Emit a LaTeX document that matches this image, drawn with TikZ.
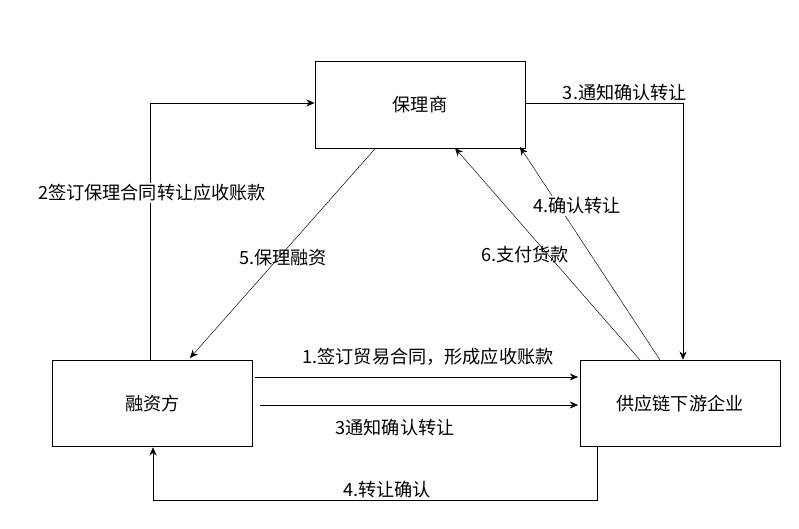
\documentclass[tikz,border=0pt]{standalone}
\usepackage{fontspec}
\setmainfont{Noto Sans CJK SC}
\usetikzlibrary{arrows.meta, positioning}

\begin{document}
\begin{tikzpicture}[x=0.03cm, y=-0.03cm, font=\fontsize{15.5}{17}\selectfont,
  box/.style={draw, thick, minimum width=6.0cm, minimum height=2.6cm},
  link/.style={draw, -{Stealth[length=7pt,width=6pt]}},
  lbl/.style={fill=white, inner sep=1pt}]
\useasboundingbox (0,0) rectangle (799,529);
\node[box, minimum width=6.3cm] (factor) at (420,105) {保理商};
\node[box] (seller) at (152.5,403.5) {融资方};
\node[box] (buyer) at (680,403.5) {供应链下游企业};
% edges
\coordinate (c1) at (150,103);
\coordinate (c2) at (683,103);
\coordinate (c3) at (597,500);
\coordinate (c4) at (153,500);
\draw[link] (seller.north -| c1) -- (c1) -- (factor.west |- c1);
\node[lbl] at (152,193) {2签订保理合同转让应收账款};
\draw[link] (factor.south -| 375,0) -- (190,358);
\node at (283,258) {5.保理融资};
\draw[link] (factor.east |- c2) -- (c2) -- (buyer.north -| c2);
\node at (625,93) {3.通知确认转让};
\draw[link] (660,360) -- (520,147);
\node[lbl] at (577,206) {4.确认转让};
\draw[link] (640,360) -- (455,148);
\node at (525,255) {6.支付货款};
\draw[link] (255,377) -- (578,377);
\node at (428,357) {1.签订贸易合同，形成应收账款};
\draw[link] (260,405) -- (578,405);
\node at (395,428) {3通知确认转让};
\draw[link] (buyer.south -| c3) -- (c3) -- (c4) -- (seller.south -| c4);
\node at (387,490) {4.转让确认};
\end{tikzpicture}
\end{document}
